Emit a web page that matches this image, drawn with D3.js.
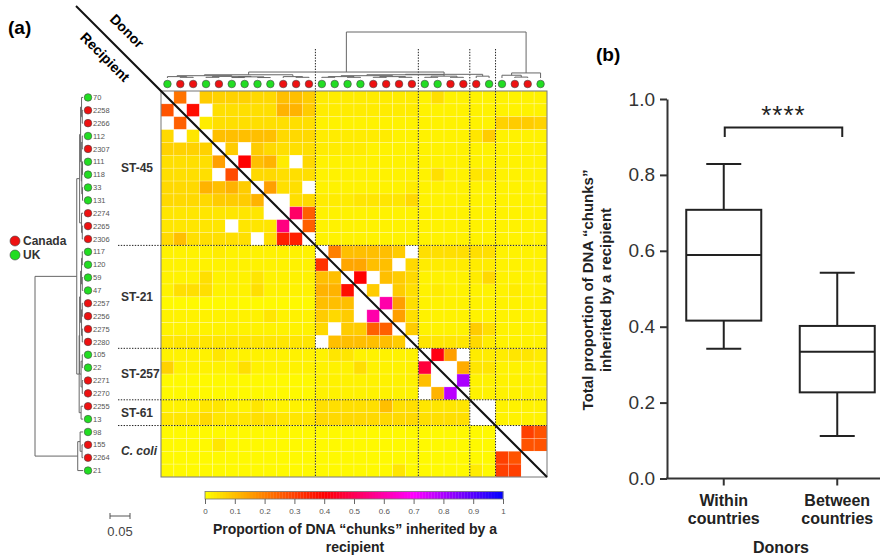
<!DOCTYPE html>
<html>
<head>
<meta charset="utf-8">
<script src="https://cdn.jsdelivr.net/npm/d3@7"></script>
<style>
  body { margin: 0; background: #fff; }
  svg { font-family: "Liberation Sans", Arial, sans-serif; }
</style>
</head>
<body>
<svg width="884" height="558"></svg>
<script>
(function() {
	"use strict"

	// ---- data ----
	var isolates = ["70", "2258", "2266", "112", "2307", "111", "118", "33", "131", "2274", "2265", "2306",
		"117", "120", "59", "47", "2257", "2256", "2275", "2280",
		"105", "22", "2271", "2270",
		"2255", "13",
		"98", "155", "2264", "21"],
		origin = ["UK", "Canada", "Canada", "UK", "Canada", "UK", "UK", "UK", "UK", "Canada", "Canada", "Canada",
		"UK", "UK", "UK", "UK", "Canada", "Canada", "Canada", "Canada",
		"UK", "UK", "Canada", "Canada",
		"Canada", "UK",
		"UK", "Canada", "Canada", "UK"],
		groupNames = ["ST-45", "ST-21", "ST-257", "ST-61", "C. coli"],
		groupSizes = [12, 8, 4, 2, 4];

	// tree: [height, child, child] ; leaves are isolate names
	var tree = [1.0,
		[0.13,
			[0.07,
				[0.05, [0.03, "70", [0.015, "2258", "2266"]], [0.035, [0.015, "112", "2307"], [0.025, [0.01, "111", "118"], [0.01, "33", "131"]]]],
				[0.03, "2274", [0.015, "2265", "2306"]]
			],
			[0.08,
				[0.07,
					[0.05, [0.03, [0.015, "117", "120"], [0.015, "59", "47"]], [0.03, [0.015, "2257", "2256"], [0.015, "2275", "2280"]]],
					[0.04, [0.015, "105", "22"], [0.015, "2271", "2270"]]
				],
				[0.04, "2255", "13"]
			]
		],
		[0.11, [0.06, "98", [0.02, "155", "2264"]], "21"]
	];

	// proportion of chunks (percent), rows = recipient, cols = donor, null = not shown
	var N = null;
	var chunks = [
		[N,22,N,8,7,7,7,6,6,10,10,8, 3,3,3,3,3,3,3,3, 2,5,2,2, 2,2, 2,2,2,2],
		[27,N,38,N,5,5,5,5,5,12,12,8, 3,3,3,3,3,3,3,3, 2,2,2,2, 2,2, 2,2,2,2],
		[N,25,N,3,5,5,5,5,5,5,5,5, 2,2,2,2,2,2,2,2, 2,2,2,2, 2,2, 7,8,8,7],
		[6,N,4,N,10,10,10,10,10,6,6,6, 3,3,3,3,3,3,2,2, 2,2,2,2, 4,8, 2,2,2,2],
		[7,7,7,7,N,8,N,8,6,5,5,5, 3,3,3,3,2,2,2,2, 2,2,2,2, 2,2, 2,2,2,2],
		[5,5,5,5,15,N,40,10,12,3,N,6, 2,2,2,2,2,2,2,2, 2,2,2,2, 2,2, 2,2,2,2],
		[5,5,5,5,N,28,N,6,6,5,5,5, 2,2,2,2,2,2,2,2, 2,5,2,2, 4,4, 2,2,2,2],
		[6,6,6,12,10,12,8,N,15,5,5,N, 2,2,2,2,2,2,2,3, 2,2,2,2, 2,2, 2,2,2,2],
		[6,6,6,6,8,8,8,12,N,N,5,6, 3,3,3,4,4,4,4,6, 2,2,2,2, 2,2, 2,2,2,2],
		[4,4,4,4,4,4,4,4,N,N,52,25, 2,2,2,2,2,2,2,2, 2,2,2,2, 2,2, 2,2,2,2],
		[4,4,4,4,4,N,4,4,4,55,N,25, 2,2,2,2,2,2,2,2, 2,2,2,2, 2,2, 2,2,2,2],
		[6,10,5,5,5,5,5,N,5,35,35,N, 2,2,2,2,2,2,2,2, 2,2,2,2, 2,2, 2,2,2,2],
		[2,2,2,2,3,2,2,2,2,2,2,2, N,20,10,10,10,10,8,N, 5,5,5,5, 5,5, 2,2,2,2],
		[2,2,2,2,2,2,2,2,2,2,2,2, 32,N,14,14,10,10,N,6, 3,3,3,3, 3,3, 2,2,2,2],
		[2,2,2,5,2,2,2,4,2,2,2,2, 10,10,N,40,N,10,8,6, 2,2,2,2, 3,6, 2,2,2,2],
		[2,5,5,5,2,2,2,5,2,2,2,2, 12,12,38,N,8,N,8,5, 2,3,2,2, 2,2, 2,3,2,2],
		[1,1,1,1,1,1,1,1,1,1,1,1, 10,10,10,N,N,60,15,5, 2,2,2,2, 2,2, 2,2,2,2],
		[2,2,2,2,2,2,2,2,4,2,2,2, 8,6,8,N,60,N,15,5, 2,2,2,2, 2,2, 2,2,2,2],
		[2,2,2,2,2,2,2,2,2,2,2,2, 6,N,8,8,25,25,N,8, 2,2,2,2, 8,5, 2,2,2,2],
		[4,4,4,4,4,4,4,4,4,4,4,4, N,10,10,10,10,10,8,N, 4,4,4,4, 6,3, 2,2,2,2],
		[2,2,2,2,4,2,2,2,2,2,2,2, 2,4,4,2,2,2,2,2, N,42,15,N, 3,3, 3,4,4,3],
		[7,2,2,2,2,2,5,2,2,2,2,2, 2,2,2,5,2,2,2,2, 47,N,N,13, 4,4, 2,2,2,2],
		[1,1,1,1,1,1,1,1,1,1,1,1, 2,2,2,2,2,2,2,2, 10,N,N,80, 2,2, 2,2,2,2],
		[1,1,1,1,1,1,1,1,1,1,1,1, 2,2,2,2,2,2,2,2, N,12,78,N, 2,2, 2,2,2,2],
		[2,2,2,4,4,2,2,4,2,2,2,2, 5,5,5,5,5,10,5,5, 4,4,4,4, N,N, 2,2,2,2],
		[4,4,4,6,4,4,4,5,5,4,4,4, 6,6,6,6,6,6,6,6, 5,5,5,5, N,N, 2,2,2,2],
		[1,1,1,1,1,1,1,1,1,1,1,1, 1,1,1,1,1,1,1,1, 1,1,1,1, 1,1, N,N,30,27],
		[1,1,1,1,4,1,1,1,1,1,1,1, 1,1,1,1,1,1,1,1, 1,1,1,1, 1,1, N,N,27,27],
		[1,1,1,1,1,1,1,1,1,1,1,1, 1,1,1,1,1,1,1,1, 1,1,1,1, 1,1, 30,27,N,N],
		[1,1,1,1,1,1,1,1,1,1,1,1, 1,1,1,1,1,1,4,1, 1,1,1,1, 3,1, 30,30,N,N]
	];

	var colorTicks = [0, 0.1, 0.2, 0.3, 0.4, 0.5, 0.6, 0.7, 0.8, 0.9, 1];

	// panel b : [min, q1, median, q3, max]
	var boxCategories = ["Within countries", "Between countries"],
		boxStats = [[0.342, 0.416, 0.589, 0.708, 0.829], [0.112, 0.227, 0.334, 0.402, 0.542]],
		yTicksB = [0, 0.2, 0.4, 0.6, 0.8, 1.0];

	var countryColor = { Canada: "#ee1111", UK: "#22dd22" };

	var svg = d3.select("svg");
	var n = isolates.length;

	// ---- heatmap ----
	var x = d3.scaleBand().domain(d3.range(n)).range([161, 547]),
		y = d3.scaleBand().domain(d3.range(n)).range([91, 477]),
		color = d3.scaleLinear().domain([0, 0.4, 0.7, 1]).range(["#ffff00", "#ff0000", "#ff00ff", "#0000ff"]);

	var cells = [];
	chunks.forEach(function(row, r) {
		row.forEach(function(v, c) {
			cells.push({ r: r, c: c, v: v });
		});
	});

	svg.append("g").selectAll("rect")
		.data(cells)
		.enter()
		.append("rect")
			.attr("x", function(d) { return x(d.c); })
			.attr("y", function(d) { return y(d.r); })
			.attr("width", x.bandwidth())
			.attr("height", y.bandwidth())
			.attr("fill", function(d) { return d.v === null ? "#fff" : color(d.v / 100); })
			.attr("stroke", "#fff")
			.attr("stroke-opacity", 0.35)
			.attr("stroke-width", 0.6);

	svg.append("rect")
		.attr("x", 161).attr("y", 91)
		.attr("width", 386).attr("height", 386)
		.attr("fill", "none").attr("stroke", "#777").attr("stroke-width", 1);

	// group boundaries
	var bounds = [], acc = 0;
	groupSizes.forEach(function(s) { acc += s; bounds.push(acc); });

	var dash = svg.append("g")
		.attr("stroke", "#222").attr("stroke-width", 1).attr("stroke-dasharray", "1.4,1.4");
	bounds.slice(0, -1).forEach(function(b) {
		dash.append("line").attr("x1", x(b)).attr("x2", x(b)).attr("y1", 49).attr("y2", 477);
		dash.append("line").attr("x1", 118).attr("x2", 547).attr("y1", y(b)).attr("y2", y(b));
	});

	var start = 0;
	groupNames.forEach(function(g, i) {
		var mid = start + groupSizes[i] / 2;
		start += groupSizes[i];
		svg.append("text")
			.attr("x", 121)
			.attr("y", y(0) + mid * y.step())
			.attr("dy", "0.35em")
			.attr("font-size", 12)
			.attr("font-weight", "bold")
			.attr("font-style", g === "C. coli" ? "italic" : "normal")
			.attr("fill", "#333")
			.text(g);
	});

	// diagonal
	svg.append("line")
		.attr("x1", 76).attr("y1", 6)
		.attr("x2", 547).attr("y2", 477)
		.attr("stroke", "#111").attr("stroke-width", 2);

	svg.append("text")
		.attr("transform", "translate(127,31) rotate(45)")
		.attr("text-anchor", "middle").attr("dy", "0.35em")
		.attr("font-size", 14).attr("font-weight", "bold")
		.text("Donor");
	svg.append("text")
		.attr("transform", "translate(105,57) rotate(45)")
		.attr("text-anchor", "middle").attr("dy", "0.35em")
		.attr("font-size", 14).attr("font-weight", "bold")
		.text("Recipient");

	// ---- dendrograms ----
	var root = d3.hierarchy(tree, function(d) { return Array.isArray(d) ? d.slice(1) : null; });
	root.eachAfter(function(nd) {
		nd.h = Array.isArray(nd.data) ? nd.data[0] : 0;
		nd.pos = nd.children ?
			(nd.children[0].pos + nd.children[nd.children.length - 1].pos) / 2 :
			isolates.indexOf(nd.data);
	});

	var hx = d3.scaleLinear().domain([0, 1]).range([83, 35]),
		hy = d3.scaleLinear().domain([0, 1]).range([78, 32]),
		yc = function(p) { return y(0) + (p + 0.5) * y.step(); },
		xc = function(p) { return x(0) + (p + 0.5) * x.step(); };

	var segsLeft = [], segsTop = [];
	root.descendants().forEach(function(nd) {
		if (!nd.children) return;
		var a = nd.children[0], b = nd.children[nd.children.length - 1];
		segsLeft.push([hx(nd.h), yc(a.pos), hx(nd.h), yc(b.pos)]);
		segsTop.push([xc(a.pos), hy(nd.h), xc(b.pos), hy(nd.h)]);
		nd.children.forEach(function(ch) {
			segsLeft.push([hx(nd.h), yc(ch.pos), hx(ch.h), yc(ch.pos)]);
			segsTop.push([xc(ch.pos), hy(nd.h), xc(ch.pos), hy(ch.h)]);
		});
	});

	[segsLeft, segsTop].forEach(function(segs) {
		svg.append("g")
			.attr("stroke", "#666").attr("stroke-width", 1)
			.selectAll("line")
			.data(segs)
			.enter()
			.append("line")
				.attr("x1", function(d) { return d[0]; })
				.attr("y1", function(d) { return d[1]; })
				.attr("x2", function(d) { return d[2]; })
				.attr("y2", function(d) { return d[3]; });
	});

	svg.append("g").selectAll("circle")
		.data(isolates)
		.enter()
		.append("circle")
			.attr("cx", 88)
			.attr("cy", function(d, i) { return yc(i); })
			.attr("r", 3.8)
			.attr("fill", function(d, i) { return countryColor[origin[i]]; })
			.attr("stroke", "#444").attr("stroke-width", 0.6);

	svg.append("g").selectAll("text")
		.data(isolates)
		.enter()
		.append("text")
			.attr("x", 93)
			.attr("y", function(d, i) { return yc(i); })
			.attr("dy", "0.35em")
			.attr("font-size", 7.5)
			.attr("fill", "#555")
			.text(function(d) { return d; });

	svg.append("g").selectAll("circle")
		.data(isolates)
		.enter()
		.append("circle")
			.attr("cx", function(d, i) { return xc(i); })
			.attr("cy", 84)
			.attr("r", 3.8)
			.attr("fill", function(d, i) { return countryColor[origin[i]]; })
			.attr("stroke", "#444").attr("stroke-width", 0.6);

	// legend
	["Canada", "UK"].forEach(function(k, i) {
		svg.append("circle")
			.attr("cx", 15).attr("cy", 241 + i * 14).attr("r", 5)
			.attr("fill", countryColor[k]).attr("stroke", "#444").attr("stroke-width", 0.6);
		svg.append("text")
			.attr("x", 23).attr("y", 241 + i * 14).attr("dy", "0.35em")
			.attr("font-size", 12).attr("font-weight", "bold").attr("fill", "#333")
			.text(k);
	});

	// scale bar
	svg.append("path")
		.attr("d", "M110,513V519M110,516H130M130,513V519")
		.attr("fill", "none").attr("stroke", "#555").attr("stroke-width", 1);
	svg.append("text")
		.attr("x", 120).attr("y", 536)
		.attr("text-anchor", "middle")
		.attr("font-size", 13).attr("fill", "#444")
		.text("0.05");

	// ---- colour bar ----
	var cb = d3.scaleLinear().domain([0, 1]).range([205, 503]),
		steps = d3.range(0, 1, 0.01);
	svg.append("g").selectAll("rect")
		.data(steps)
		.enter()
		.append("rect")
			.attr("x", function(d) { return cb(d); })
			.attr("y", 491.5)
			.attr("width", cb(0.01) - cb(0) + 0.3)
			.attr("height", 7.5)
			.attr("fill", function(d) { return color(d + 0.005); });
	svg.append("rect")
		.attr("x", 205).attr("y", 491.5).attr("width", 298).attr("height", 7.5)
		.attr("fill", "none").attr("stroke", "#777").attr("stroke-width", 0.8);

	var cbAxis = svg.append("g")
		.attr("transform", "translate(0,499)")
		.call(d3.axisBottom(cb).tickValues(colorTicks).tickSize(5).tickSizeOuter(0).tickPadding(4)
			.tickFormat(function(d) { return d === 0 || d === 1 ? d3.format("d")(d) : d3.format(".1f")(d); }));
	cbAxis.select(".domain").remove();
	cbAxis.selectAll("line").attr("stroke", "#666");
	cbAxis.selectAll("text").attr("font-size", 8).attr("fill", "#555").attr("font-family", "Liberation Sans, Arial, sans-serif");

	svg.append("text")
		.attr("x", 355).attr("y", 534)
		.attr("text-anchor", "middle").attr("font-size", 14).attr("font-weight", "bold").attr("fill", "#222")
		.text("Proportion of DNA \u201Cchunks\u201D inherited by a");
	svg.append("text")
		.attr("x", 355).attr("y", 552)
		.attr("text-anchor", "middle").attr("font-size", 14).attr("font-weight", "bold").attr("fill", "#222")
		.text("recipient");

	svg.append("text")
		.attr("x", 8).attr("y", 34)
		.attr("font-size", 19).attr("font-weight", "bold")
		.text("(a)");

	// ---- panel b ----
	var xb = d3.scaleBand().domain(boxCategories).range([667, 894]),
		yb = d3.scaleLinear().domain([0, 1]).range([478.5, 99]),
		boxW = 75,
		capW = 35;

	var yAxis = svg.append("g")
		.attr("transform", "translate(667,0)")
		.call(d3.axisLeft(yb).tickValues(yTicksB).tickSize(7).tickSizeOuter(0).tickPadding(5).tickFormat(d3.format(".1f")));
	yAxis.select(".domain").attr("stroke", "#333").attr("stroke-width", 2);
	yAxis.selectAll("line").attr("stroke", "#333").attr("stroke-width", 2);
	yAxis.selectAll("text").attr("font-size", 19).attr("fill", "#333").attr("font-family", "Liberation Sans, Arial, sans-serif");

	svg.append("line")
		.attr("x1", 666).attr("x2", 880).attr("y1", yb(0)).attr("y2", yb(0))
		.attr("stroke", "#333").attr("stroke-width", 2);

	var boxes = svg.append("g").selectAll("g")
		.data(boxStats)
		.enter()
		.append("g")
			.attr("transform", function(d, i) { return "translate(" + (xb(boxCategories[i]) + xb.bandwidth() / 2) + ",0)"; });

	boxes.append("line")
		.attr("x1", 0).attr("x2", 0).attr("y1", yb(0)).attr("y2", yb(0) + 7)
		.attr("stroke", "#333").attr("stroke-width", 2);
	boxes.append("line")
		.attr("x1", 0).attr("x2", 0)
		.attr("y1", function(d) { return yb(d[0]); })
		.attr("y2", function(d) { return yb(d[4]); })
		.attr("stroke", "#222").attr("stroke-width", 2);
	boxes.append("rect")
		.attr("x", -boxW / 2)
		.attr("y", function(d) { return yb(d[3]); })
		.attr("width", boxW)
		.attr("height", function(d) { return yb(d[1]) - yb(d[3]); })
		.attr("fill", "#fff").attr("stroke", "#222").attr("stroke-width", 2);
	[0, 2, 4].forEach(function(k) {
		boxes.append("line")
			.attr("x1", k === 2 ? -boxW / 2 : -capW / 2)
			.attr("x2", k === 2 ? boxW / 2 : capW / 2)
			.attr("y1", function(d) { return yb(d[k]); })
			.attr("y2", function(d) { return yb(d[k]); })
			.attr("stroke", "#222").attr("stroke-width", 2);
	});

	boxCategories.forEach(function(c) {
		var words = c.split(" "), cx = xb(c) + xb.bandwidth() / 2;
		words.forEach(function(w, i) {
			svg.append("text")
				.attr("x", cx).attr("y", 506 + i * 18)
				.attr("text-anchor", "middle").attr("font-size", 16).attr("font-weight", "bold").attr("fill", "#222")
				.text(w);
		});
	});

	svg.append("text")
		.attr("x", 781).attr("y", 553)
		.attr("text-anchor", "middle").attr("font-size", 16).attr("font-weight", "bold").attr("fill", "#222")
		.text("Donors");

	svg.append("text")
		.attr("transform", "translate(593,290) rotate(-90)")
		.attr("text-anchor", "middle").attr("font-size", 15).attr("font-weight", "bold").attr("fill", "#222")
		.text("Total proportion of DNA \u201Cchunks\u201D");
	svg.append("text")
		.attr("transform", "translate(611,290) rotate(-90)")
		.attr("text-anchor", "middle").attr("font-size", 15).attr("font-weight", "bold").attr("fill", "#222")
		.text("inherited by a recipient");

	// significance bracket
	var c1 = xb(boxCategories[0]) + xb.bandwidth() / 2 + 1,
		c2 = xb(boxCategories[1]) + xb.bandwidth() / 2 + 5;
	svg.append("path")
		.attr("d", "M" + c1 + "," + yb(0.9) + "V" + yb(0.925) + "H" + c2 + "V" + yb(0.9))
		.attr("fill", "none").attr("stroke", "#222").attr("stroke-width", 2);
	svg.append("text")
		.attr("x", (c1 + c2) / 2).attr("y", 124)
		.attr("text-anchor", "middle").attr("font-size", 26).attr("letter-spacing", 1).attr("fill", "#222")
		.text("****");

	svg.append("text")
		.attr("x", 596).attr("y", 61)
		.attr("font-size", 19).attr("font-weight", "bold")
		.text("(b)");
})();
</script>
</body>
</html>
